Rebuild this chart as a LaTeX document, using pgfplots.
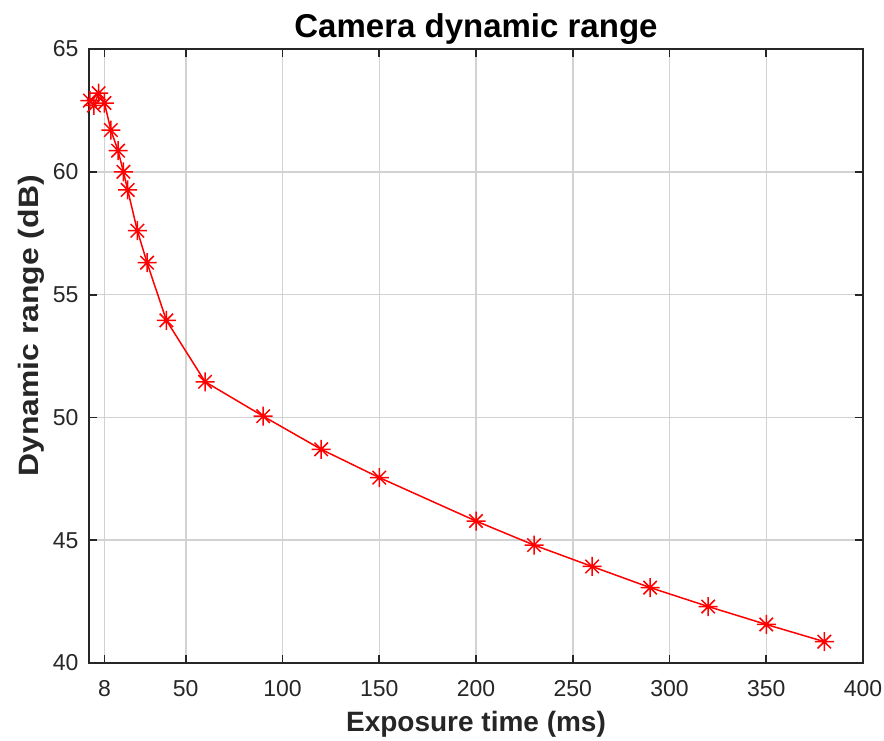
\documentclass[border=0pt]{standalone}
\usepackage{fontspec}
\setmainfont{Liberation Sans}
\usepackage{pgfplots}
\pgfplotsset{compat=1.18}
\pgfdeclareplotmark{mstar}{%
  \pgfpathmoveto{\pgfqpoint{-\pgfplotmarksize}{0pt}}\pgfpathlineto{\pgfqpoint{\pgfplotmarksize}{0pt}}%
  \pgfpathmoveto{\pgfqpoint{0pt}{-\pgfplotmarksize}}\pgfpathlineto{\pgfqpoint{0pt}{\pgfplotmarksize}}%
  \pgfpathmoveto{\pgfqpoint{-0.707\pgfplotmarksize}{-0.707\pgfplotmarksize}}\pgfpathlineto{\pgfqpoint{0.707\pgfplotmarksize}{0.707\pgfplotmarksize}}%
  \pgfpathmoveto{\pgfqpoint{-0.707\pgfplotmarksize}{0.707\pgfplotmarksize}}\pgfpathlineto{\pgfqpoint{0.707\pgfplotmarksize}{-0.707\pgfplotmarksize}}%
  \pgfusepathqstroke}
\begin{document}
\begin{tikzpicture}
\path[use as bounding box] (-89pt,-77pt) rectangle (795pt,663pt);
\begin{axis}[
  at={(0pt,0pt)}, anchor=south west,
  scale only axis,
  width=774pt, height=614pt,
  xmin=0, xmax=400, ymin=40, ymax=65,
  xtick={8,50,100,150,200,250,300,350,400},
  ytick={40,45,50,55,60,65},
  grid=major,
  major grid style={line width=1.5pt, gray!35},
  axis line style={line width=1.8pt, black!85},
  tick style={line width=1.8pt, black!85},
  major tick length=8pt,
  tick align=inside,
  /pgf/number format/assume math mode=true,
  tick label style={font=\fontsize{23}{27}\selectfont, black!85},
  xticklabel style={yshift=-14pt},
  yticklabel style={xshift=-7pt},
  title={\textbf{Camera dynamic range}},
  title style={font=\fontsize{33}{38}\selectfont, at={(axis description cs:0.5,1)}, anchor=center, yshift=14pt},
  xlabel={\textbf{Exposure time (ms)}},
  ylabel={\textbf{Dynamic range (dB)}},
  label style={font=\fontsize{28}{32}\selectfont, black!85},
  xlabel style={at={(axis description cs:0.5,0)}, anchor=center, yshift=-61pt},
  ylabel style={at={(axis description cs:0,0.5)}, anchor=center, yshift=58pt, xshift=30pt, xscale=1.14},
]
\addplot[red, line width=1.5pt, mark=mstar, mark size=9.5pt, mark options={line width=1.5pt}] coordinates {
(0.5,62.9) (2.5,62.7) (5,63.2) (8,62.8)
(11.3,61.7) (15,60.86) (17.8,60.0) (20,59.26) (25,57.6) (30,56.3) (40,53.95)
(60,51.45) (90,50.05) (120,48.7) (150,47.55) (200,45.78) (230,44.8) (260,43.93)
(290,43.07) (320,42.3) (350,41.57) (380,40.87)
};
\end{axis}
\end{tikzpicture}
\end{document}
